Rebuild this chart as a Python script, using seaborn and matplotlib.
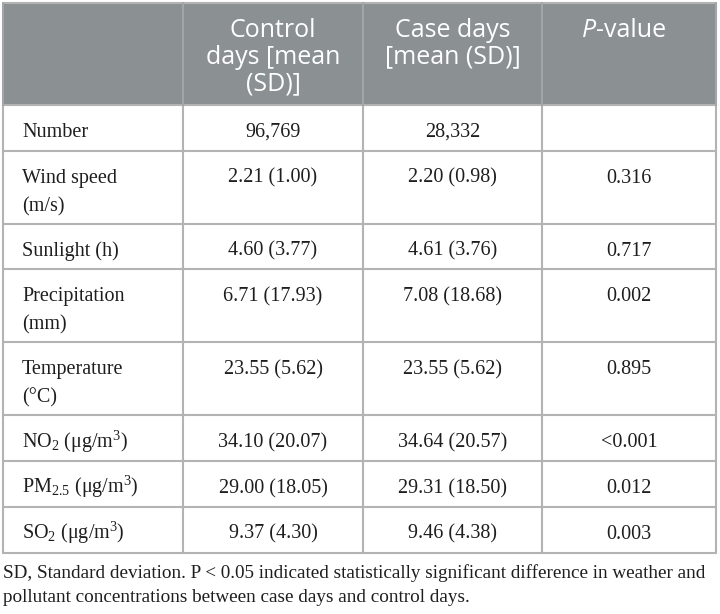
import matplotlib
matplotlib.use("Agg")
import matplotlib.pyplot as plt
import seaborn as sns

# table content
headers = ["", "Control\ndays [mean\n(SD)]", "Case days\n[mean (SD)]", "P-value"]
row_labels = ["Number", "Wind speed\n(m/s)", "Sunlight (h)", "Precipitation\n(mm)",
              "Temperature\n(°C)", r"NO$_\mathrm{2}$ (μg/m$^\mathrm{3}$)",
              r"PM$_\mathrm{2.5}$ (μg/m$^\mathrm{3}$)", r"SO$_\mathrm{2}$ (μg/m$^\mathrm{3}$)"]
control_days = ["96,769", "2.21 (1.00)", "4.60 (3.77)", "6.71 (17.93)", "23.55 (5.62)",
                "34.10 (20.07)", "29.00 (18.05)", "9.37 (4.30)"]
case_days = ["28,332", "2.20 (0.98)", "4.61 (3.76)", "7.08 (18.68)", "23.55 (5.62)",
             "34.64 (20.57)", "29.31 (18.50)", "9.46 (4.38)"]
p_values = ["", "0.316", "0.717", "0.002", "0.895", "<0.001", "0.012", "0.003"]
footnote = ["SD, Standard deviation. P < 0.05 indicated statistically significant difference in weather and",
            "pollutant concentrations between case days and control days."]

sns.set_style("white")
plt.rcParams["mathtext.fontset"] = "custom"
plt.rcParams["mathtext.rm"] = "Liberation Serif"
plt.rcParams["mathtext.it"] = "Liberation Serif:italic"

fig = plt.figure(figsize=(7.2, 6.14), dpi=100)
ax = fig.add_axes([0, 0, 1, 1])
ax.set_xlim(0, 720)
ax.set_ylim(614, 0)
ax.axis("off")

header_bg = "#8b9093"
line_col = "#b3b3b3"
col_x = [3, 183, 363, 542, 716]
top = 3
header_h = 102
single_h = 45.7
double_h = 73

# row boundaries
bounds = [top, top + header_h]
for lab in row_labels:
    h = double_h if "\n" in lab else single_h
    bounds.append(bounds[-1] + h)

# header background
ax.add_patch(plt.Rectangle((col_x[0], bounds[0]), col_x[-1] - col_x[0], header_h,
                           facecolor=header_bg, edgecolor="none", zorder=0))

# grid lines
for y in bounds:
    ax.plot([col_x[0], col_x[-1]], [y, y], color=line_col, lw=1.5, zorder=1)
for x in col_x:
    ax.plot([x, x], [bounds[1], bounds[-1]], color=line_col, lw=1.5, zorder=1)
    ax.plot([x, x], [bounds[0], bounds[1]], color="#a2a6a9", lw=1.5, zorder=1)

# header text, one line at a time
hfont = dict(family="Open Sans", size=18, color="white")
h_base, h_step = top + 34, 26.5
for j in (1, 2):
    for k, line in enumerate(headers[j].split("\n")):
        ax.text((col_x[j] + col_x[j + 1]) / 2, h_base + k * h_step, line,
                ha="center", va="baseline", **hfont)
pc = (col_x[3] + col_x[4]) / 2
tp = ax.text(pc - 47, h_base, "P", style="italic", ha="left", va="baseline", **hfont)
ax.annotate("-value", xy=(1, 0), xycoords=tp, ha="left", va="bottom", **hfont)

# body
bfont = dict(family="Liberation Serif", size=14.5, color="#1e1e1e", va="baseline")
b_off, b_step = 32, 28.5
for i, lab in enumerate(row_labels):
    y0 = bounds[i + 1]
    for k, line in enumerate(lab.split("\n")):
        ax.text(col_x[0] + 19, y0 + b_off + k * b_step, line, ha="left", **bfont)
    for j, vals in enumerate([control_days, case_days, p_values], start=1):
        ax.text((col_x[j] + col_x[j + 1]) / 2, y0 + b_off, vals[i], ha="center", **bfont)

for k, line in enumerate(footnote):
    ax.text(col_x[0], bounds[-1] + 26 + k * 24, line, ha="left", va="baseline",
            family="Liberation Serif", size=13.8, color="#1e1e1e")

fig.savefig("out.png", dpi=100)
